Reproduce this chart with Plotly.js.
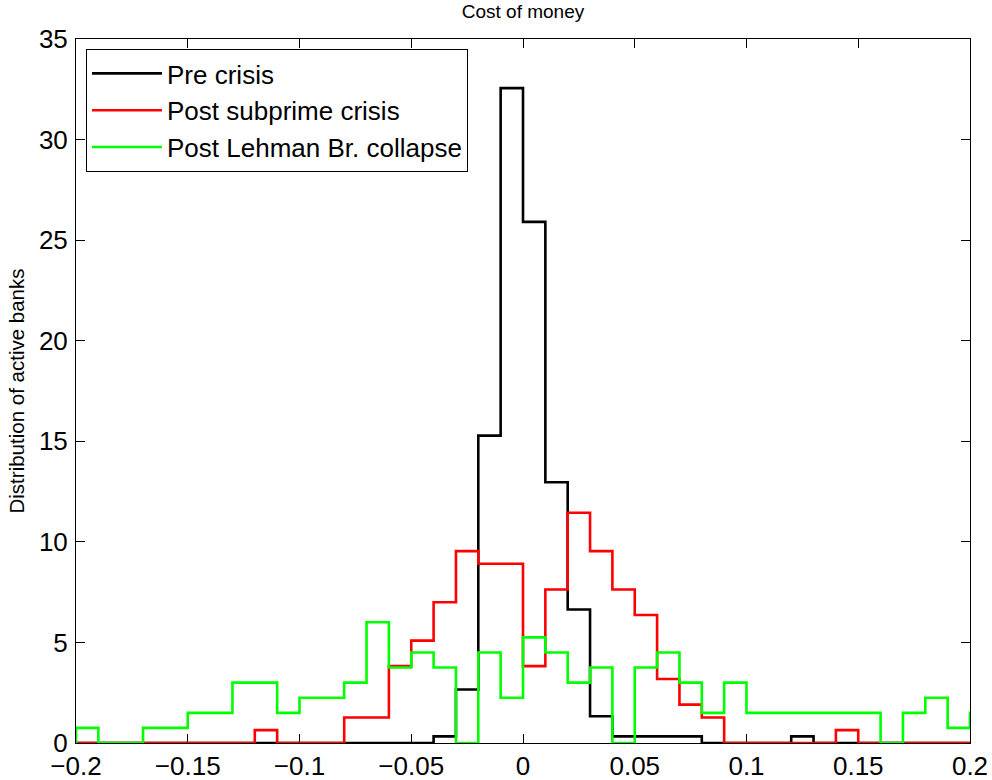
<!DOCTYPE html>
<html>
<head>
<meta charset="utf-8">
<script src="https://cdn.plot.ly/plotly-3.0.1.min.js"></script>
<style>
  html, body { margin: 0; padding: 0; background: #fff; }
  #chart { width: 992px; height: 780px; }
</style>
</head>
<body>
<div id="chart"></div>
<script>
// Left edges of the histogram bins (width 0.01), plus the closing right edge.
var binEdges = [-0.21, -0.20, -0.19, -0.18, -0.17, -0.16, -0.15, -0.14, -0.13, -0.12,
                -0.11, -0.10, -0.09, -0.08, -0.07, -0.06, -0.05, -0.04, -0.03, -0.02,
                -0.01, 0.00, 0.01, 0.02, 0.03, 0.04, 0.05, 0.06, 0.07, 0.08,
                0.09, 0.10, 0.11, 0.12, 0.13, 0.14, 0.15, 0.16, 0.17, 0.18,
                0.19, 0.20, 0.21];

// Density of active banks in each bin (one value per bin above).
var preCrisis = [0, 0, 0, 0, 0, 0, 0, 0, 0, 0,
                 0, 0, 0, 0, 0, 0, 0, 0.33, 2.66, 15.28,
                 32.56, 25.91, 12.96, 6.64, 1.33, 0.33, 0.33, 0.33, 0.33, 0,
                 0, 0, 0, 0.33, 0, 0, 0, 0, 0, 0,
                 0, 0];

var postSubprime = [0, 0, 0, 0, 0, 0, 0, 0, 0, 0.64,
                    0, 0, 0, 1.27, 1.27, 3.82, 5.09, 7.00, 9.54, 8.91,
                    8.91, 3.82, 7.63, 11.45, 9.54, 7.63, 6.36, 3.18, 1.91, 1.27,
                    0, 0, 0, 0, 0, 0.64, 0, 0, 0, 0,
                    0, 0];

var postLehman = [0, 0.75, 0, 0, 0.75, 0.75, 1.5, 1.5, 3.0, 3.0,
                  1.5, 2.25, 2.25, 3.0, 6.0, 3.75, 4.5, 3.75, 0, 4.5,
                  2.25, 5.25, 4.5, 3.0, 3.75, 0, 3.75, 4.5, 3.0, 1.5,
                  3.0, 1.5, 1.5, 1.5, 1.5, 1.5, 1.5, 0, 1.5, 2.25,
                  0.75, 1.5];

var seriesNames = ['Pre crisis', 'Post subprime crisis', 'Post Lehman Br. collapse'];
var seriesColors = ['#000000', '#ff0000', '#00ff00'];

var xTickVals = [-0.2, -0.15, -0.1, -0.05, 0, 0.05, 0.1, 0.15, 0.2];
var xTickText = ['\u22120.2', '\u22120.15', '\u22120.1', '\u22120.05', '0', '0.05', '0.1', '0.15', '0.2'];
var yTickVals = [0, 5, 10, 15, 20, 25, 30, 35];

// Stairs: repeat the last value so the final bin gets its top edge.
function stairs(values, name, color) {
  return {
    type: 'scatter',
    mode: 'lines',
    name: name,
    x: binEdges,
    y: values.concat([values[values.length - 1]]),
    line: { shape: 'hv', color: color, width: 2.6 },
    hoverinfo: 'x+y+name'
  };
}

var data = [
  stairs(preCrisis, seriesNames[0], seriesColors[0]),
  stairs(postSubprime, seriesNames[1], seriesColors[1]),
  stairs(postLehman, seriesNames[2], seriesColors[2])
];

var font = 'Liberation Sans, Arial, Helvetica, sans-serif';

var axisCommon = {
  showgrid: false,
  zeroline: false,
  showline: true,
  linecolor: '#000',
  linewidth: 1,
  mirror: 'allticks',
  ticks: 'inside',
  ticklen: 9,
  tickwidth: 1,
  tickcolor: '#000',
  tickfont: { family: font, size: 26, color: '#000' },
  layer: 'below traces'
};

var layout = {
  width: 992,
  height: 780,
  margin: { l: 76, r: 22, t: 39, b: 37, pad: 0 },
  paper_bgcolor: '#fff',
  plot_bgcolor: '#fff',
  font: { family: font, color: '#000' },
  title: {
    text: 'Cost of money',
    font: { family: font, size: 19, color: '#000' },
    x: 0.5, xref: 'paper', xanchor: 'center',
    y: 0.985, yref: 'container', yanchor: 'middle'
  },
  xaxis: Object.assign({}, axisCommon, {
    range: [-0.2, 0.2],
    tickmode: 'array',
    tickvals: xTickVals,
    ticktext: xTickText
  }),
  yaxis: Object.assign({}, axisCommon, {
    range: [0, 35],
    tickmode: 'array',
    tickvals: yTickVals,
    ticklabelstandoff: 2,
    title: { text: 'Distribution of active banks', font: { family: font, size: 20.5, color: '#000' }, standoff: 8 }
  }),
  showlegend: true,
  legend: {
    x: 0.0112, y: 0.9858, xanchor: 'left', yanchor: 'top',
    bgcolor: '#fff',
    bordercolor: '#000',
    borderwidth: 1,
    font: { family: font, size: 26, color: '#000' },
    itemwidth: 70,
    tracegroupgap: 0
  }
};

Plotly.newPlot('chart', data, layout, { displayModeBar: false, staticPlot: true });
</script>
</body>
</html>
